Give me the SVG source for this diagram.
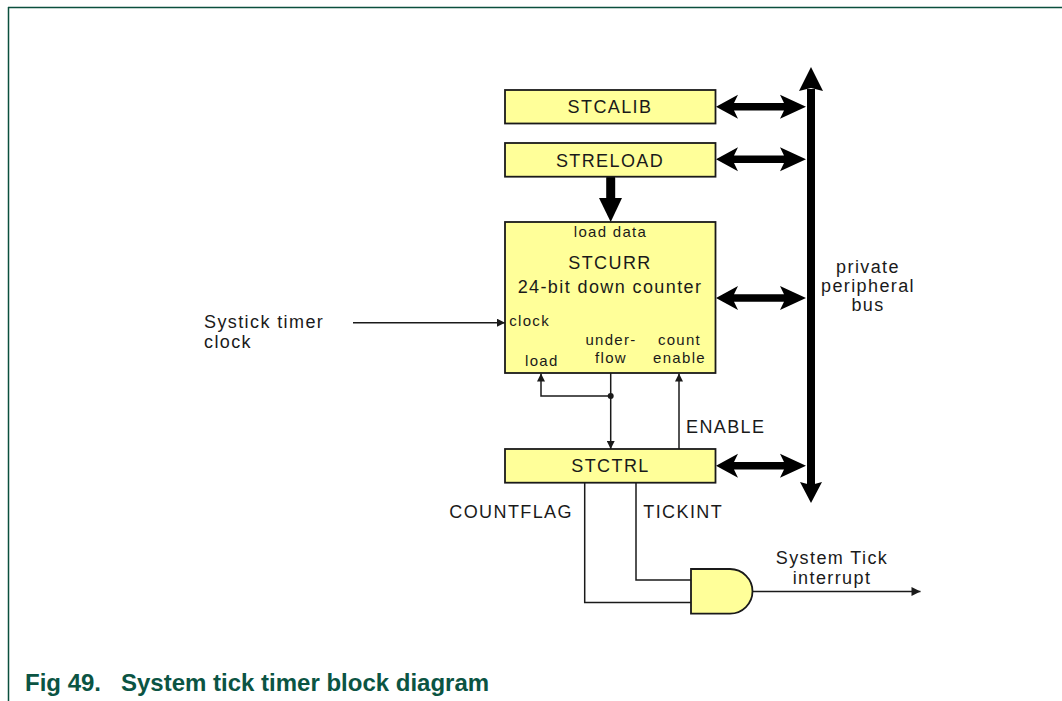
<svg xmlns="http://www.w3.org/2000/svg" width="1062" height="701" viewBox="0 0 1062 701">
<defs>
<style>
.box{fill:#ffff99;stroke:#1a1a1a;stroke-width:1.8}
.t{font-family:"Liberation Sans",Arial,sans-serif;fill:#1a1a1a}
.l{font-size:18px;letter-spacing:1.4px}
.s{font-size:15px;letter-spacing:1.3px}
.c{text-anchor:middle}
.w{fill:none;stroke:#1a1a1a;stroke-width:1.5}
.thick{fill:#000}
.cap{font-family:"Liberation Sans",Arial,sans-serif;font-weight:bold;font-size:24px;fill:#0b5443}
</style>
<marker id="ah" viewBox="0 0 10 10" refX="10" refY="5" markerWidth="9" markerHeight="8" markerUnits="userSpaceOnUse" orient="auto">
<path d="M0,0 L10,5 L0,10 z" fill="#1a1a1a"/>
</marker>
<marker id="ah2" viewBox="0 0 10 10" refX="10" refY="5" markerWidth="10" markerHeight="9" markerUnits="userSpaceOnUse" orient="auto">
<path d="M0,0 L10,5 L0,10 z" fill="#1a1a1a"/>
</marker>
</defs>
<rect width="1062" height="701" fill="#fff"/>
<g id="frame" stroke="#0b4f3d" stroke-width="1.5" fill="none">
<line x1="8" y1="7.5" x2="1062" y2="7.5"/>
<line x1="8.5" y1="7" x2="8.5" y2="701"/>
</g>

<g id="connectors">
<rect class="thick" x="807" y="89" width="8" height="396"/>
<polygon class="thick" points="811,67 823,91 811,88 799,91"/>
<polygon class="thick" points="811,503 822,482 811,485 800,482"/>
<polygon class="thick" points="716,106.7 738,94.7 734,103 784,103 780,94.7 806,106.7 780,118.7 784,110.4 734,110.4 738,118.7"/>
<polygon class="thick" points="716,159.3 738,147.3 734,155.6 784,155.6 780,147.3 806,159.3 780,171.3 784,163 734,163 738,171.3"/>
<polygon class="thick" points="716,298 738,286 734,294.3 784,294.3 780,286 806,298 780,310 784,301.7 734,301.7 738,310"/>
<polygon class="thick" points="716,465.7 738,453.7 734,462 784,462 780,453.7 806,465.7 780,477.7 784,469.4 734,469.4 738,477.7"/>
<line x1="610.7" y1="178" x2="610.7" y2="200" stroke="#000" stroke-width="9" stroke-linecap="round"/>
<polygon class="thick" points="599,198 622,198 610.7,222"/>
<line class="w" x1="353" y1="322.7" x2="505" y2="322.7" marker-end="url(#ah)"/>
<line class="w" x1="610.7" y1="373" x2="610.7" y2="449" marker-end="url(#ah)"/>
<polyline class="w" points="610.7,396 541,396 541,373.5" marker-end="url(#ah)"/>
<circle cx="610.7" cy="396" r="3" fill="#1a1a1a"/>
<line class="w" x1="679" y1="449" x2="679" y2="373.5" marker-end="url(#ah)"/>
<polyline class="w" points="584.7,483 584.7,602.5 691,602.5"/>
<polyline class="w" points="636,483 636,580 691,580"/>
<line class="w" x1="752.5" y1="591.5" x2="920.5" y2="591.5" marker-end="url(#ah2)"/>
</g>

<g id="stcalib">
<rect class="box" x="505" y="90" width="210.5" height="33.5"/>
<text class="t l c" x="610" y="113.3">STCALIB</text>
</g>
<g id="streload">
<rect class="box" x="505" y="143" width="210.5" height="33.7"/>
<text class="t l c" x="610" y="166.7">STRELOAD</text>
</g>
<g id="stcurr">
<rect class="box" x="505" y="222" width="210.5" height="151"/>
<text class="t s c" x="610.5" y="236.7">load data</text>
<text class="t l c" x="610" y="269.3">STCURR</text>
<text class="t l c" x="610" y="293.3">24-bit down counter</text>
<text class="t s" x="509.3" y="326">clock</text>
<text class="t s" x="525" y="365.7">load</text>
<text class="t s c" x="611" y="345">under-</text>
<text class="t s c" x="611" y="362.7">flow</text>
<text class="t s c" x="679.5" y="345">count</text>
<text class="t s c" x="679.5" y="362.7">enable</text>
</g>
<g id="stctrl">
<rect class="box" x="505" y="449" width="210.5" height="33.7"/>
<text class="t l c" x="610.5" y="472.3">STCTRL</text>
</g>
<g id="andgate">
<path class="box" d="M691,569 L730,569 A22.5,22.3 0 0 1 730,613.6 L691,613.6 Z"/>
</g>
<g id="labels">
<text class="t l" x="204" y="328.3">Systick timer</text>
<text class="t l" x="204" y="347.7">clock</text>
<text class="t l c" x="868" y="273.3">private</text>
<text class="t l c" x="868" y="292.3">peripheral</text>
<text class="t l c" x="868" y="311">bus</text>
<text class="t l" x="686" y="432.7">ENABLE</text>
<text class="t l" x="449.3" y="517.7">COUNTFLAG</text>
<text class="t l" x="643.3" y="517.7">TICKINT</text>
<text class="t l c" x="832" y="564.3">System Tick</text>
<text class="t l c" x="832" y="584.3">interrupt</text>
</g>
<text class="cap" x="25" y="690.5">Fig 49.<tspan x="121">System tick timer block diagram</tspan></text>
</svg>
